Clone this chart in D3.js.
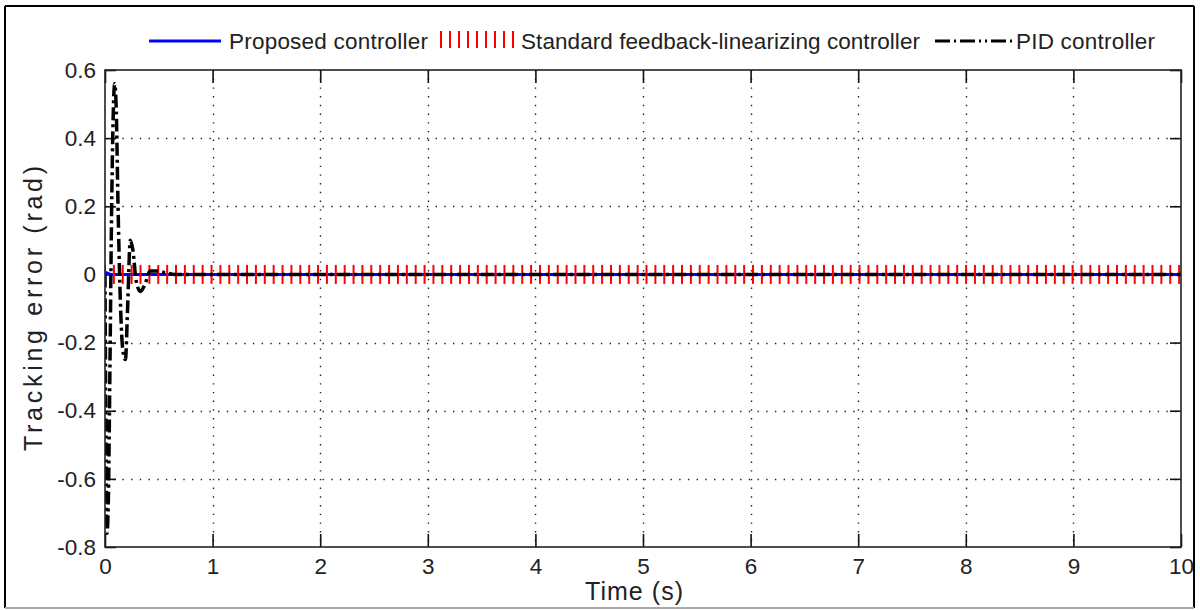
<!DOCTYPE html>
<html lang="en">
<head>
  <meta charset="UTF-8" />
  <title>Tracking error</title>
  <script src="https://d3js.org/d3.v7.min.js"></script>
  <style>
    body { margin: 0; background: #fff; }
    svg { display: block; font-family: "Liberation Sans", Arial, sans-serif; }
  </style>
</head>
<body>
  <svg id="chart" width="1200" height="610"></svg>
  <script>
    // Data
    const xTicks = [0, 1, 2, 3, 4, 5, 6, 7, 8, 9, 10];
    const yTicks = [-0.8, -0.6, -0.4, -0.2, 0, 0.2, 0.4, 0.6];
    const legendLabels = ["Proposed controller", "Standard feedback-linearizing controller", "PID controller"];

    // Proposed controller: stays at zero
    const propTime = [0, 0.01, 0.05, 10];
    const propErr = [0, 0.005, 0, 0];

    // Standard feedback-linearizing controller: marker '|' at each sample, all ~0
    const stdStep = 0.0825;
    const stdTime = d3.range(0, 10.001, stdStep);
    const stdErr = stdTime.map(() => 0);

    // PID controller: damped oscillation at start
    const pidTime = [0, 0.008, 0.018, 0.03, 0.045, 0.06, 0.075, 0.09, 0.105, 0.12, 0.14, 0.165, 0.19, 0.21, 0.235, 0.26, 0.29, 0.33, 0.37, 0.42, 0.48, 0.56, 0.65, 10];
    const pidErr = [0, -0.45, -0.76, -0.68, -0.3, 0.15, 0.45, 0.56, 0.48, 0.22, -0.05, -0.22, -0.25, -0.1, 0.1, 0.07, -0.02, -0.05, -0.03, 0.01, 0.01, 0.005, 0, 0];

    const svg = d3.select("#chart");
    const margin = { left: 105, right: 19, top: 70, bottom: 63 };
    const W = 1200, H = 610;
    const x = d3.scaleLinear().domain([0, 10]).range([margin.left, W - margin.right]);
    const y = d3.scaleLinear().domain([-0.8, 0.6]).range([H - margin.bottom, margin.top]);

    // figure frame
    svg.append("line").attr("x1", 5).attr("x2", 1194).attr("y1", 6).attr("y2", 6).attr("stroke", "#000").attr("stroke-width", 2);
    svg.append("line").attr("x1", 5).attr("x2", 5).attr("y1", 6).attr("y2", 608).attr("stroke", "#000").attr("stroke-width", 2);
    svg.append("line").attr("x1", 1194).attr("x2", 1194).attr("y1", 6).attr("y2", 608).attr("stroke", "#000").attr("stroke-width", 2);
    svg.append("line").attr("x1", 5).attr("x2", 1194).attr("y1", 608).attr("y2", 608).attr("stroke", "#aaa").attr("stroke-width", 2);

    // grid
    const grid = svg.append("g").attr("stroke", "#222").attr("stroke-width", 1.4).attr("stroke-dasharray", "1.4,7.3");
    grid.selectAll(".gx").data(xTicks.slice(1, -1)).enter().append("line")
      .attr("x1", d => Math.round(x(d)) + 0.5).attr("x2", d => Math.round(x(d)) + 0.5)
      .attr("y1", y(0.6)).attr("y2", y(-0.8));
    grid.selectAll(".gy").data(yTicks.slice(1, -1)).enter().append("line")
      .attr("x1", x(0)).attr("x2", x(10))
      .attr("y1", d => Math.round(y(d)) + 0.5).attr("y2", d => Math.round(y(d)) + 0.5);

    // axes with inward ticks on all sides
    const axisStyle = g => {
      g.select(".domain").remove();
      g.selectAll(".tick line").attr("stroke", "#111").attr("stroke-width", 1.6);
      g.selectAll(".tick text").attr("fill", "#222").style("font-size", "22.5px");
    };
    const yFmt = d => d === 0 ? "0" : d3.format(".1f")(d).replace("\u2212", "-");
    svg.append("g").attr("transform", `translate(0,${y(-0.8)})`)
      .call(d3.axisBottom(x).tickValues(xTicks).tickSize(-13).tickPadding(6).tickFormat(d3.format("d")))
      .call(axisStyle)
      .selectAll(".tick text").attr("dy", "0.95em");
    svg.append("g").attr("transform", `translate(0,${y(0.6)})`)
      .call(d3.axisTop(x).tickValues(xTicks).tickSize(-13).tickFormat(""))
      .call(axisStyle);
    svg.append("g").attr("transform", `translate(${x(0)},0)`)
      .call(d3.axisLeft(y).tickValues(yTicks).tickSize(-11).tickPadding(9).tickFormat(yFmt))
      .call(axisStyle);
    svg.append("g").attr("transform", `translate(${x(10)},0)`)
      .call(d3.axisRight(y).tickValues(yTicks).tickSize(-11).tickFormat(""))
      .call(axisStyle);

    // clip for data
    svg.append("clipPath").attr("id", "clip").append("rect")
      .attr("x", x(0)).attr("y", y(0.6)).attr("width", x(10) - x(0)).attr("height", y(-0.8) - y(0.6));
    const plot = svg.append("g").attr("clip-path", "url(#clip)");

    // proposed (blue)
    const propData = propTime.map((t, i) => [t, propErr[i]]);
    plot.append("path").datum(propData)
      .attr("fill", "none").attr("stroke", "#0000ff").attr("stroke-width", 3)
      .attr("d", d3.line().x(d => x(d[0])).y(d => y(d[1])));

    // standard (red | markers)
    plot.selectAll(".std").data(stdTime.map((t, i) => [t, stdErr[i]])).enter().append("line")
      .attr("x1", d => x(d[0])).attr("x2", d => x(d[0]))
      .attr("y1", d => y(d[1]) - 9.5).attr("y2", d => y(d[1]) + 9.5)
      .attr("stroke", "#ff0000").attr("stroke-width", 2);

    // PID (black dash-dot)
    const pidData = pidTime.map((t, i) => [t, pidErr[i]]);
    plot.append("path").datum(pidData)
      .attr("fill", "none").attr("stroke", "#000").attr("stroke-width", 3.5)
      .attr("stroke-dasharray", "13,4,3,4")
      .attr("d", d3.line().curve(d3.curveMonotoneX).x(d => x(d[0])).y(d => y(d[1])));

    // plot box
    svg.append("rect").attr("x", x(0)).attr("y", y(0.6))
      .attr("width", x(10) - x(0)).attr("height", y(-0.8) - y(0.6))
      .attr("fill", "none").attr("stroke", "#222").attr("stroke-width", 1.6);

    // axis titles
    svg.append("text").attr("x", 634).attr("y", 600).attr("text-anchor", "middle")
      .style("font-size", "25px").attr("fill", "#222")
      .attr("textLength", 98).attr("lengthAdjust", "spacing").text("Time (s)");
    svg.append("text").attr("transform", `translate(42,${(y(0.6) + y(-0.8)) / 2}) rotate(-90)`)
      .attr("text-anchor", "middle").style("font-size", "25px").attr("fill", "#222")
      .attr("textLength", 285).attr("lengthAdjust", "spacing")
      .text("Tracking error (rad)");

    // legend
    const ly = 41;
    const leg = svg.append("g").style("font-size", "22.5px").attr("fill", "#222");
    leg.append("line").attr("x1", 149).attr("x2", 221).attr("y1", ly).attr("y2", ly)
      .attr("stroke", "#0000ff").attr("stroke-width", 3);
    leg.append("text").attr("x", 229).attr("y", ly + 8)
      .attr("textLength", 199).attr("lengthAdjust", "spacing").text(legendLabels[0]);
    leg.selectAll(".lm").data(d3.range(9)).enter().append("line")
      .attr("x1", i => 441 + i * 9).attr("x2", i => 441 + i * 9)
      .attr("y1", ly - 10).attr("y2", ly + 7)
      .attr("stroke", "#ff0000").attr("stroke-width", 2);
    leg.append("text").attr("x", 521).attr("y", ly + 8)
      .attr("textLength", 399).attr("lengthAdjust", "spacing").text(legendLabels[1]);
    leg.append("line").attr("x1", 935).attr("x2", 1013).attr("y1", ly).attr("y2", ly)
      .attr("stroke", "#000").attr("stroke-width", 3)
      .attr("stroke-dasharray", "15,4,2,4,15,4,2,4,2,4");
    leg.append("text").attr("x", 1016).attr("y", ly + 8)
      .attr("textLength", 139).attr("lengthAdjust", "spacing").text(legendLabels[2]);
  </script>
</body>
</html>
